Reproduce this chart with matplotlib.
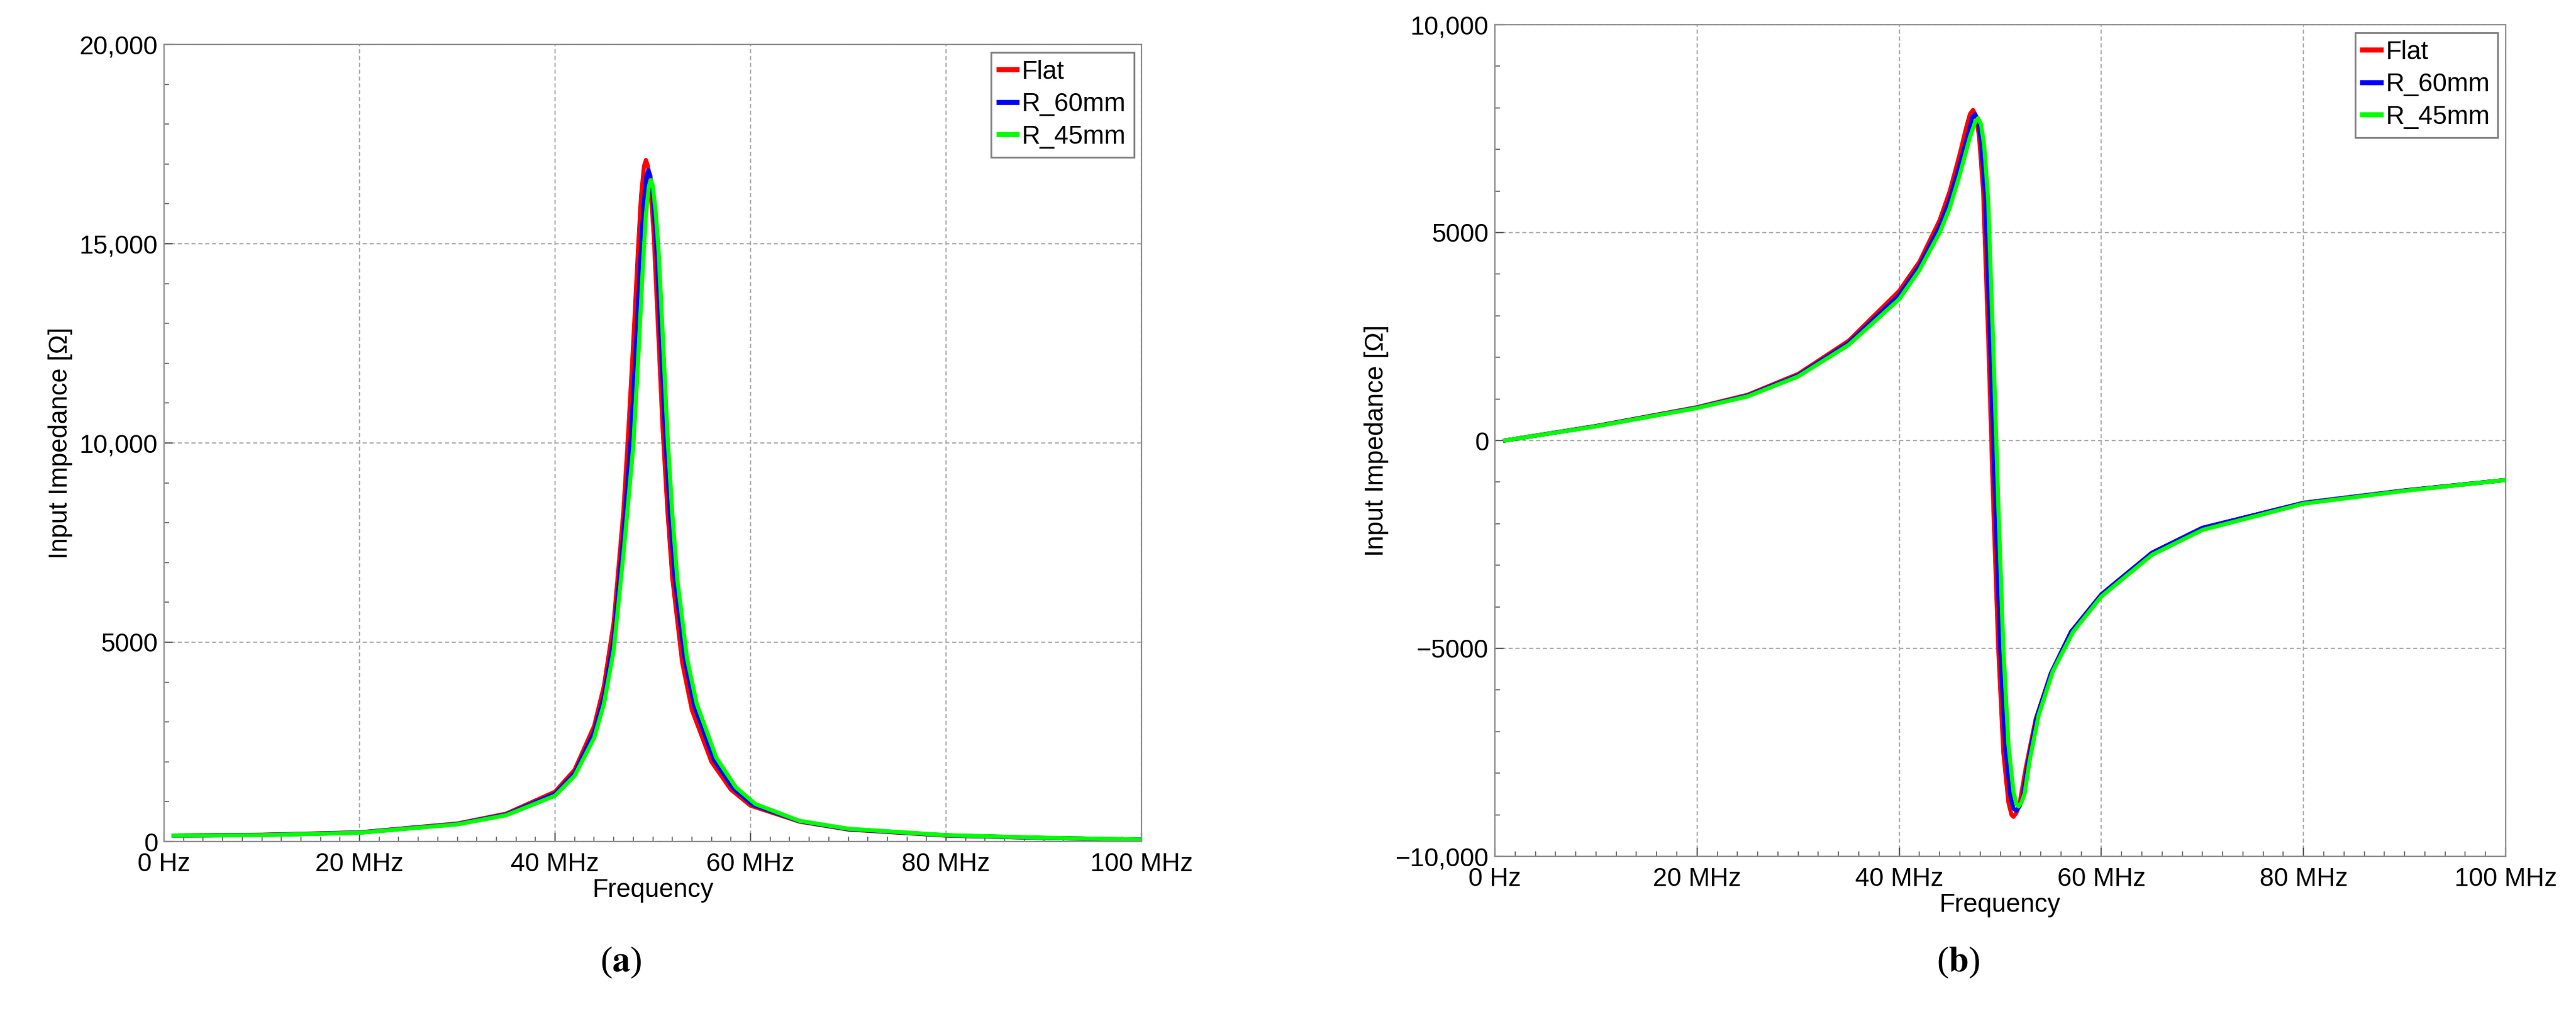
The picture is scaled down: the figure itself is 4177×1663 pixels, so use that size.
import numpy as np
import matplotlib.pyplot as plt
from matplotlib.ticker import FuncFormatter, MultipleLocator

# ---- (a) magnitude ----
fa_flat = [1, 10, 20, 30, 35, 40, 42, 44, 45, 46, 47, 47.5, 48, 48.5, 48.8, 49.1, 49.3, 49.5, 49.8, 50.1, 50.5, 51, 51.5, 52, 53, 54, 56, 58, 60, 65, 70, 80, 90, 100]
za_flat = [150, 170, 230, 450, 700, 1250, 1800, 2900, 3900, 5500, 8300, 10300, 12500, 14900, 16200, 16950, 17100, 16950, 16300, 15200, 13100, 10400, 8300, 6600, 4500, 3300, 2000, 1300, 900, 500, 300, 150, 90, 50]
fa_r60 = [1, 10, 20, 30, 35, 40, 42, 44, 45, 46, 47, 47.75, 48.25, 48.75, 49.05, 49.35, 49.55, 49.75, 50.05, 50.35, 50.75, 51.25, 51.75, 52.25, 53.25, 54.25, 56.25, 58.25, 60.25, 65, 70, 80, 90, 100]
za_r60 = [150, 165, 225, 440, 680, 1200, 1720, 2750, 3650, 5100, 7700, 10100, 12300, 14700, 15950, 16700, 16850, 16700, 16050, 15000, 12950, 10300, 8250, 6600, 4600, 3400, 2050, 1330, 920, 510, 310, 155, 90, 50]
fa_r45 = [1, 10, 20, 30, 35, 40, 42, 44, 45, 46, 47, 48, 48.5, 49, 49.3, 49.6, 49.8, 50, 50.3, 50.6, 51, 51.5, 52, 52.5, 53.5, 54.5, 56.5, 58.5, 60.5, 65, 70, 80, 90, 100]
za_r45 = [150, 160, 220, 430, 660, 1150, 1650, 2600, 3450, 4800, 7200, 9900, 12100, 14500, 15750, 16450, 16600, 16450, 15800, 14800, 12800, 10200, 8200, 6600, 4600, 3450, 2100, 1360, 940, 520, 320, 160, 95, 50]

# ---- (b) reactance ----
fb_flat = [1, 10, 20, 25, 30, 35, 40, 42, 44, 45, 46, 46.6, 47, 47.3, 47.6, 47.9, 48.3, 48.8, 49.3, 49.8, 50.3, 50.8, 51.1, 51.3, 51.6, 51.9, 52.5, 53.5, 55, 57, 60, 65, 70, 80, 90, 100]
zb_flat = [0, 350, 800, 1100, 1600, 2400, 3600, 4300, 5300, 6000, 6900, 7500, 7850, 7950, 7800, 7300, 6000, 2500, -1500, -5000, -7500, -8700, -9000, -9050, -8950, -8750, -7900, -6700, -5600, -4600, -3700, -2700, -2100, -1500, -1200, -950]
fb_r60 = [1, 10, 20, 25, 30, 35, 40, 42, 44, 45, 46, 46.8, 47.2, 47.5, 47.8, 48.1, 48.5, 49.0, 49.5, 50.0, 50.5, 51.0, 51.3, 51.6, 51.9, 52.2, 52.7, 53.6, 55, 57, 60, 65, 70, 80, 90, 100]
zb_r60 = [0, 345, 790, 1080, 1570, 2350, 3500, 4200, 5150, 5800, 6650, 7350, 7750, 7850, 7700, 7200, 5900, 2400, -1500, -5000, -7400, -8550, -8850, -8900, -8800, -8600, -7800, -6650, -5600, -4600, -3700, -2700, -2100, -1500, -1200, -950]
fb_r45 = [1, 10, 20, 25, 30, 35, 40, 42, 44, 45, 46, 47, 47.5, 47.8, 48.1, 48.4, 48.8, 49.3, 49.8, 50.3, 50.8, 51.3, 51.6, 51.8, 52.1, 52.4, 52.9, 53.8, 55.2, 57.2, 60, 65, 70, 80, 90, 100]
zb_r45 = [0, 340, 780, 1060, 1540, 2300, 3400, 4100, 5000, 5600, 6400, 7300, 7650, 7750, 7600, 7100, 5800, 2300, -1500, -5000, -7300, -8450, -8750, -8800, -8700, -8500, -7700, -6600, -5550, -4600, -3750, -2750, -2150, -1520, -1210, -950]

labels = ["Flat", "R_60mm", "R_45mm"]
colors = ["#ff0000", "#0000ff", "#00ff00"]

plt.rcParams['font.family'] = ['Liberation Sans', 'DejaVu Sans']
plt.rcParams['mathtext.fontset'] = 'stix'

fig = plt.figure(figsize=(20.885, 8.315), dpi=200)
ax_a = fig.add_axes([266/4177, 1 - 1364/1663, (1851 - 266)/4177, (1364 - 72)/1663])
ax_b = fig.add_axes([2424/4177, 1 - 1388/1663, (4063 - 2424)/4177, (1388 - 40)/1663])

def mhz(v, pos):
    return "0 Hz" if v == 0 else f"{v:g} MHz"

def thousands(v, pos):
    if abs(v) >= 10000:
        s = f"{abs(v):,.0f}"
    else:
        s = f"{abs(v):.0f}"
    return ("\u2212" + s) if v < 0 else s

for ax, data, ylim, ystep in [
    (ax_a, [(fa_flat, za_flat), (fa_r60, za_r60), (fa_r45, za_r45)], (0, 20000), 5000),
    (ax_b, [(fb_flat, zb_flat), (fb_r60, zb_r60), (fb_r45, zb_r45)], (-10000, 10000), 5000),
]:
    for (f, z), lab, c in zip(data, labels, colors):
        ax.plot(f, z, color=c, lw=2.4, label=lab)
    ax.set_xlim(0, 100)
    ax.set_ylim(*ylim)
    ax.xaxis.set_major_locator(MultipleLocator(20))
    ax.xaxis.set_minor_locator(MultipleLocator(2))
    ax.yaxis.set_major_locator(MultipleLocator(ystep))
    ax.yaxis.set_minor_locator(MultipleLocator(1000))
    ax.xaxis.set_major_formatter(FuncFormatter(mhz))
    ax.yaxis.set_major_formatter(FuncFormatter(thousands))
    ax.grid(True, which='major', ls=(0, (3, 2)), color='#b0b0b0', lw=0.8)
    ax.tick_params(which='both', direction='in', labelsize=15, color='#606060')
    ax.tick_params(axis='x', which='major', pad=6)
    ax.tick_params(which='major', length=5)
    ax.tick_params(which='minor', length=3)
    for s in ax.spines.values():
        s.set_color('#909090')
    ax.set_xlabel("Frequency", fontsize=15, labelpad=1)
    ax.set_ylabel("Input Impedance [\u03a9]", fontsize=15, labelpad=4)
    leg = ax.legend(loc='upper right', fontsize=15, handlelength=0.7, handletextpad=0.2,
                    borderpad=0.3, labelspacing=0.3, fancybox=False, framealpha=1,
                    borderaxespad=0.3)
    leg.get_frame().set_edgecolor('#808080')
    for ln in leg.get_lines():
        ln.set_linewidth(3)

fig.text(1007/4177, 1 - 1560/1663, r"($\mathbf{a}$)", fontsize=21, family='Liberation Serif', ha='center', va='center')
fig.text(3175/4177, 1 - 1560/1663, r"($\mathbf{b}$)", fontsize=21, family='Liberation Serif', ha='center', va='center')

fig.savefig("out.png", dpi=200)
